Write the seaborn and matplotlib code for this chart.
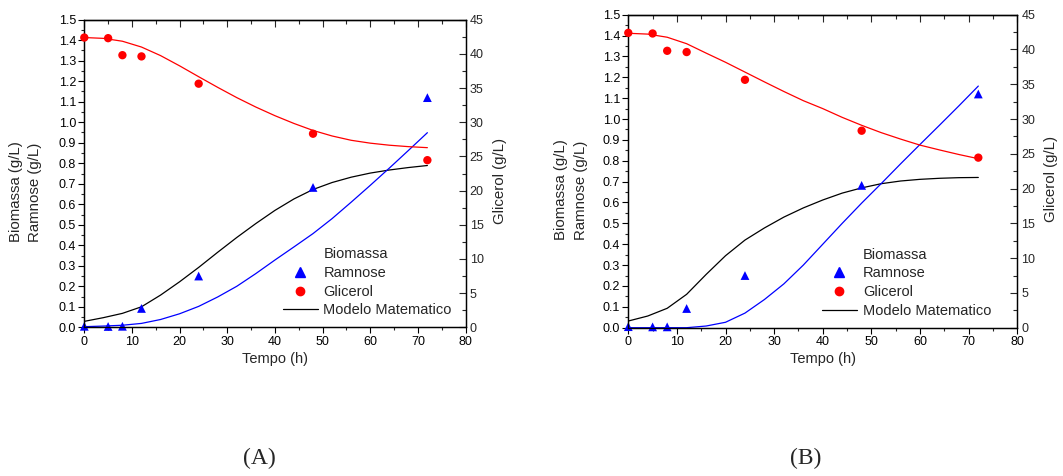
import numpy as np
import pandas as pd
import matplotlib
matplotlib.use("Agg")
import matplotlib.pyplot as plt
from matplotlib.lines import Line2D
from matplotlib.ticker import MultipleLocator, FormatStrFormatter
import seaborn as sns

# ---------------- data ----------------
t_data = [0, 5, 8, 12, 24, 48, 72]
ramnose_A = [0.005, 0.004, 0.005, 0.092, 0.250, 0.682, 1.120]
glicerol_A = [42.39, 42.30, 39.81, 39.63, 35.64, 28.32, 24.45]
ramnose_B = [0.005, 0.004, 0.004, 0.092, 0.250, 0.682, 1.120]
glicerol_B = [42.39, 42.30, 39.81, 39.63, 35.64, 28.32, 24.45]

t_model = [0, 4, 8, 12, 16, 20, 24, 28, 32, 36, 40, 44, 48, 52, 56, 60, 64, 68, 72]
biomassa_mod_A = [0.029, 0.047, 0.068, 0.100, 0.157, 0.222, 0.292, 0.366, 0.438, 0.506,
                  0.570, 0.626, 0.672, 0.706, 0.732, 0.752, 0.767, 0.779, 0.789]
ramnose_mod_A = [0.003, 0.006, 0.010, 0.019, 0.038, 0.066, 0.102, 0.148, 0.200, 0.262,
                 0.328, 0.392, 0.457, 0.530, 0.610, 0.692, 0.776, 0.862, 0.949]
glicerol_mod_A = [42.39, 42.27, 41.85, 41.00, 39.75, 38.25, 36.66, 35.10, 33.60, 32.22,
                  30.96, 29.82, 28.80, 27.99, 27.36, 26.94, 26.64, 26.43, 26.28]

biomassa_mod_B = [0.032, 0.056, 0.093, 0.160, 0.255, 0.345, 0.420, 0.478, 0.530, 0.574,
                  0.612, 0.645, 0.670, 0.690, 0.703, 0.711, 0.716, 0.719, 0.720]
ramnose_mod_B = [0.000, 0.000, 0.000, 0.000, 0.008, 0.026, 0.070, 0.135, 0.210, 0.300,
                 0.400, 0.500, 0.597, 0.690, 0.785, 0.878, 0.970, 1.063, 1.158]
glicerol_mod_B = [42.33, 42.21, 41.76, 40.83, 39.48, 38.16, 36.75, 35.34, 33.96, 32.64,
                  31.50, 30.24, 29.10, 28.05, 27.12, 26.25, 25.56, 24.90, 24.30]

captions = ["(A)", "(B)"]
legend_labels = ["Biomassa", "Ramnose", "Glicerol", "Modelo Matematico"]

# ---------------- style ----------------
sns.set_style("ticks")
plt.rcParams["font.family"] = ["Liberation Sans", "DejaVu Sans"]
plt.rcParams["axes.linewidth"] = 0.9

fig = plt.figure(figsize=(10.63, 4.76), dpi=100)

W, H = 1063, 476
panels = [
    dict(box=(84.3, 19.7, 465.5, 327.3), ram=ramnose_A, gli=glicerol_A,
         bmod=biomassa_mod_A, rmod=ramnose_mod_A, gmod=glicerol_mod_A,
         lab1=16.1, lab2=35.1, laby=192.0, glx=500.0, gly=181.0, cap=(259, 458),
         leg=(0.52, 0.032)),
    dict(box=(628.3, 14.7, 1017.2, 327.7), ram=ramnose_B, gli=glicerol_B,
         bmod=biomassa_mod_B, rmod=ramnose_mod_B, gmod=glicerol_mod_B,
         lab1=561.4, lab2=580.8, laby=190.0, glx=1051.0, gly=179.0, cap=(806, 458),
         leg=(0.498, 0.032)),
]

for i, p in enumerate(panels):
    x0, y0, x1, y1 = p["box"]
    ax = fig.add_axes([x0 / W, 1 - y1 / H, (x1 - x0) / W, (y1 - y0) / H])
    ax2 = ax.twinx()

    dm = pd.DataFrame({"t": t_model, "bio": p["bmod"], "ram": p["rmod"], "gli": p["gmod"]})
    dd = pd.DataFrame({"t": t_data, "ram": p["ram"], "gli": p["gli"]})

    sns.lineplot(data=dm, x="t", y="bio", ax=ax, color="black", lw=0.9)
    sns.lineplot(data=dm, x="t", y="ram", ax=ax, color="blue", lw=0.9)
    sns.scatterplot(data=dd, x="t", y="ram", ax=ax, marker="^", color="blue",
                    s=40, edgecolor="none", clip_on=False, zorder=5)
    sns.lineplot(data=dm, x="t", y="gli", ax=ax2, color="red", lw=0.9)
    sns.scatterplot(data=dd, x="t", y="gli", ax=ax2, marker="o", color="red",
                    s=36, edgecolor="none", clip_on=False, zorder=5)

    ax.set_xlim(0, 80)
    ax.set_ylim(0, 1.5)
    ax2.set_ylim(0, 45)

    ax.xaxis.set_major_locator(MultipleLocator(10))
    ax.xaxis.set_minor_locator(MultipleLocator(5))
    ax.yaxis.set_major_locator(MultipleLocator(0.1))
    ax.yaxis.set_minor_locator(MultipleLocator(0.05))
    ax.yaxis.set_major_formatter(FormatStrFormatter("%.1f"))
    ax2.yaxis.set_major_locator(MultipleLocator(5))
    ax2.yaxis.set_minor_locator(MultipleLocator(2.5))

    ax.tick_params(axis="both", which="major", direction="out", length=4, width=0.8,
                   labelsize=9, pad=2, colors="black")
    ax.tick_params(axis="both", which="minor", direction="out", length=2.5, width=0.8)
    ax.tick_params(axis="y", right=False)
    ax.tick_params(axis="x", top=False)
    ax2.tick_params(axis="y", which="major", direction="in", length=5, width=0.8,
                    labelsize=9, pad=3)
    ax2.tick_params(axis="y", which="minor", direction="in", length=3, width=0.8)

    top = ax.secondary_xaxis("top")
    top.xaxis.set_major_locator(MultipleLocator(10))
    top.xaxis.set_minor_locator(MultipleLocator(5))
    top.tick_params(axis="x", which="major", direction="in", length=5, width=0.8, labeltop=False)
    top.tick_params(axis="x", which="minor", direction="in", length=3, width=0.8)

    for s in ax.spines.values():
        s.set_color("black")
    for s in ax2.spines.values():
        s.set_color("black")

    ax.set_xlabel("Tempo (h)", fontsize=10.5, labelpad=3)
    ax.set_ylabel("")
    ax2.set_ylabel("")

    fig.text(p["lab1"] / W, 1 - p["laby"] / H, "Biomassa (g/L)", rotation=90,
             ha="center", va="center", fontsize=10.8)
    fig.text(p["lab2"] / W, 1 - p["laby"] / H, "Ramnose (g/L)", rotation=90,
             ha="center", va="center", fontsize=10.8)
    fig.text(p["glx"] / W, 1 - p["gly"] / H, "Glicerol (g/L)", rotation=90,
             ha="center", va="center", fontsize=10.8)

    handles = [
        Line2D([], [], linestyle="none", marker=None),
        Line2D([], [], linestyle="none", marker="^", color="blue", markersize=6.5),
        Line2D([], [], linestyle="none", marker="o", color="red", markersize=6),
        Line2D([], [], color="black", lw=0.9),
    ]
    ax2.legend(handles, legend_labels, loc="lower left", bbox_to_anchor=p["leg"],
               frameon=False, fontsize=10.5, handlelength=2.4, handletextpad=0.4,
               labelspacing=0.32, borderaxespad=0, borderpad=0)

    fig.text(p["cap"][0] / W, 1 - p["cap"][1] / H, captions[i],
             family=["Liberation Serif", "DejaVu Serif"], fontsize=17,
             ha="center", va="center")

fig.savefig("out.png", dpi=100)
